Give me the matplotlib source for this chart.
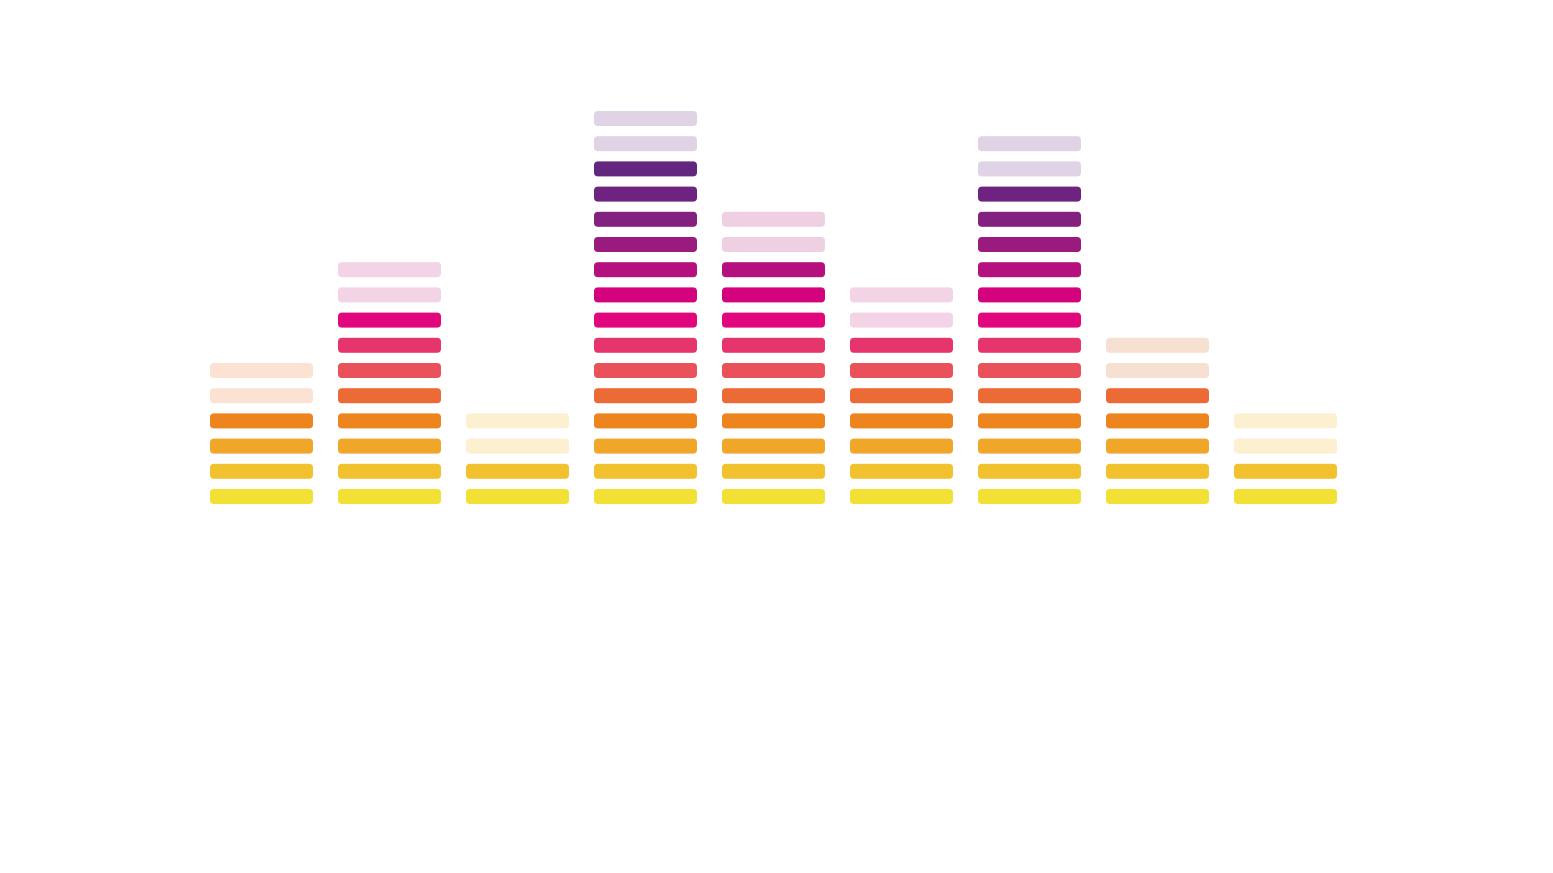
import matplotlib
matplotlib.use('Agg')
import matplotlib.pyplot as plt
from matplotlib.patches import FancyBboxPatch

# lit segments per column and peak-hold height (2 faded segments on top)
levels = [4, 8, 2, 14, 10, 7, 13, 5, 2]
peaks = [6, 10, 4, 16, 12, 9, 15, 7, 4]

# segment colours from bottom to top
row_colors = ['#F2E034', '#F2C12E', '#F0A628', '#EE841C', '#EC6A35', '#E9515B',
              '#E6356C', '#E2067E', '#D4027C', '#B4107E', '#9A1A7D', '#832080',
              '#6F2380', '#63267E']

# colour of the faded peak segments per column
peak_colors = ['#FBE2D3', '#F3D3E6', '#FDF0D0', '#DFD3E5', '#EFD0E2',
               '#F3D3E6', '#DFD3E5', '#F6E0D2', '#FDF0D0']

W, H = 1553, 873
px_x, px_y = 128.0, 25.2   # pixel size of one data unit

fig = plt.figure(figsize=(W / 100, H / 100), dpi=100)
fig.patch.set_facecolor('white')
left = (261.5 - 2 * px_x) / W
bottom = (H - 496.5 - px_y) / H
ax = fig.add_axes([left, bottom, 12 * px_x / W, 20 * px_y / H])
ax.set_xlim(-2, 10)
ax.set_ylim(-1, 19)
ax.axis('off')

seg_w = 103 / px_x
seg_h = 15 / px_y
rad = 4.0 / px_x
aspect = px_x / px_y


def segment(x, y, color):
    p = FancyBboxPatch((x - seg_w / 2, y - seg_h / 2), seg_w, seg_h,
                       boxstyle='round,pad=0,rounding_size=%f' % rad,
                       mutation_aspect=aspect, facecolor=color,
                       edgecolor='none', linewidth=0)
    ax.add_patch(p)


for i, (lv, pk) in enumerate(zip(levels, peaks)):
    for j in range(lv):
        segment(i, j, row_colors[j])
    for j in range(lv, pk):
        segment(i, j, peak_colors[i])

fig.savefig('out.png', dpi=100, facecolor='white')
